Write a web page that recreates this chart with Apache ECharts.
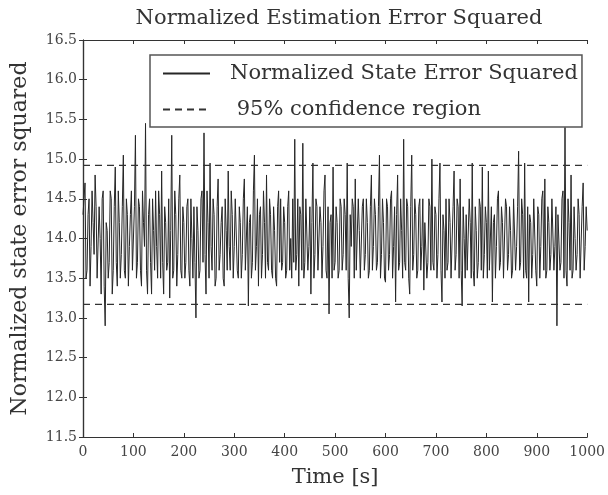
<!DOCTYPE html>
<html>
<head>
<meta charset="utf-8">
<script src="https://cdn.jsdelivr.net/npm/echarts@6/dist/echarts.min.js"></script>
<style>
html,body{margin:0;padding:0;background:#fff;}
#nees{width:608px;height:495px;}
</style>
</head>
<body>
<div id="nees"></div>
<script>
// sample step of the NEES trace, seconds
var STEP = 2;
// NEES values, 100 s per row
var nees0   = [14.3,14.5,14.7,13.5,13.6,14.3,14.5,13.4,13.9,14.6,14.2,13.8,14.8,14.4,13.5,13.5,14.4,14.0,13.3,14.5,14.6,13.4,12.9,14.2,14.1,13.5,13.7,14.6,14.5,13.3,13.6,14.4,14.9,13.7,13.4,14.6,14.2,13.5,13.8,14.4,15.05,13.6,13.5,14.5,14.3,13.4,13.9,14.3,14.6,13.6];
var nees100 = [13.6,14.4,15.3,13.5,13.7,14.5,14.4,13.6,13.4,14.6,14.2,13.9,15.45,13.6,13.3,14.3,14.5,13.7,13.3,14.5,14.1,13.6,14.6,13.9,13.5,14.6,14.3,13.5,14.85,13.7,13.3,14.4,14.2,13.6,13.7,14.5,13.25,14.1,15.3,13.5,13.6,14.6,14.3,13.4,13.8,14.5,14.8,13.6,13.5,14.4];
var nees200 = [14.2,13.5,13.7,14.4,14.5,13.6,13.4,14.5,14.0,13.5,14.4,13.7,13.0,14.4,14.1,13.5,13.6,14.5,14.6,13.7,15.33,13.8,13.3,14.6,14.2,13.5,14.95,13.9,13.6,14.5,14.3,13.4,13.5,14.4,14.75,13.6,13.8,14.2,14.4,13.5,13.4,14.5,14.1,13.6,14.85,13.9,13.6,14.6,14.3,13.5];
var nees300 = [13.9,14.5,14.5,13.6,13.5,14.4,14.2,13.5,13.8,14.5,14.75,13.6,13.6,14.4,13.15,14.2,14.3,13.5,13.7,14.6,15.05,13.6,13.9,14.5,13.4,14.3,14.4,13.5,13.8,14.6,14.2,13.5,14.8,13.7,13.6,14.5,14.3,13.6,13.5,14.4,14.1,13.5,13.4,14.4,14.6,13.7,14.5,13.6,13.7,14.4];
var nees400 = [14.2,13.5,13.6,14.4,14.6,13.6,14.0,13.5,14.5,13.7,15.25,13.6,13.8,14.5,13.4,14.4,14.3,13.6,15.2,13.5,13.7,14.5,14.5,13.6,13.9,14.4,13.3,14.2,14.95,13.5,13.8,14.5,14.4,13.6,13.6,14.4,14.2,13.5,13.9,14.6,14.8,13.6,13.5,14.4,13.05,14.2,14.3,13.5,14.9,13.6];
var nees500 = [13.7,14.4,14.2,13.5,13.6,14.5,14.4,13.6,13.8,14.5,14.3,13.6,14.95,13.5,13.0,14.3,13.9,14.5,14.4,13.5,14.75,13.6,13.6,14.5,14.1,13.5,13.5,14.4,14.5,13.6,13.8,14.5,14.2,13.5,13.6,14.4,14.8,13.6,13.9,14.5,14.3,13.6,13.7,14.4,15.05,13.5,13.8,14.5,14.2,13.5];
var nees600 = [13.45,14.5,14.4,13.6,13.8,14.5,14.6,13.5,13.9,14.4,13.2,14.3,14.8,13.6,13.7,14.5,14.1,13.5,15.25,13.7,13.6,14.5,14.4,13.5,13.3,14.4,15.05,13.6,13.8,14.5,14.3,13.5,13.6,14.4,14.5,13.6,13.9,14.5,13.35,14.2,14.2,13.5,13.7,14.5,14.4,13.6,15.0,13.7,13.6,14.4];
var nees700 = [14.3,13.5,13.8,14.5,14.95,13.6,13.2,14.3,14.1,13.5,14.5,13.6,13.7,14.5,14.2,13.5,13.5,14.4,14.85,13.6,13.8,14.5,14.4,13.5,14.75,13.6,13.15,14.4,14.0,13.5,14.3,13.6,13.6,14.5,14.2,13.5,14.95,13.6,13.4,14.4,14.1,13.5,13.7,14.5,14.4,13.6,14.9,13.5,13.8,14.4];
var nees800 = [14.2,13.5,14.85,13.6,13.6,14.4,13.2,14.2,14.3,13.5,13.9,14.5,14.6,13.6,13.7,14.4,14.2,13.5,13.5,14.5,14.4,13.6,13.8,14.4,14.1,13.5,13.6,14.5,14.5,13.6,13.9,14.4,15.1,13.6,13.7,14.5,14.3,13.5,14.95,13.6,13.5,14.4,13.2,14.3,14.2,13.5,13.8,14.5,14.5,13.6];
var nees900 = [13.4,14.4,14.3,13.5,13.9,14.5,14.6,13.6,14.75,13.5,13.6,14.4,14.2,13.6,13.8,14.5,14.5,13.6,13.9,14.4,12.9,14.3,14.3,13.6,13.7,14.5,14.6,13.5,15.4,13.6,13.4,14.5,14.2,13.6,14.8,13.5,13.6,14.4,14.0,13.6,13.8,14.5,14.3,13.5,13.5,14.4,14.7,13.6,13.9,14.4,14.1];
// 95% confidence bounds
var confUpper = 14.92;
var confLower = 13.17;
var xTicks = [0,100,200,300,400,500,600,700,800,900,1000];
var yTicks = [11.5,12.0,12.5,13.0,13.5,14.0,14.5,15.0,15.5,16.0,16.5];

var neesAll = [].concat(nees0,nees100,nees200,nees300,nees400,nees500,nees600,nees700,nees800,nees900);
var neesData = neesAll.map(function(v,i){ return [i*STEP, v]; });
var tEnd = xTicks[xTicks.length-1];

var serif = '"DejaVu Serif", "Liberation Serif", serif';
var NAME_NEES = 'Normalized State Error Squared';
var NAME_CONF = '95% confidence region';

var chart = echarts.init(document.getElementById('nees'));
var axisCommon = {
    axisLine: {show: true, lineStyle: {color: '#333', width: 1.2}},
    axisTick: {show: true, inside: true, length: 4, lineStyle: {color: '#333'}},
    splitLine: {show: false}
};
var option = {
    backgroundColor: '#fff',
    animation: false,
    title: {
        text: 'Normalized Estimation Error Squared',
        left: 334, top: 3, textAlign: 'center',
        textStyle: {fontFamily: serif, fontSize: 21, fontWeight: 'normal', color: '#333'}
    },
    legend: {
        orient: 'vertical',
        left: 150, top: 55,
        padding: [8, 4, 7, 12],
        itemWidth: 47, itemHeight: 14, itemGap: 15,
        borderColor: '#555', borderWidth: 1.5,
        backgroundColor: '#fff',
        itemStyle: {opacity: 0},
        textStyle: {fontFamily: serif, fontSize: 21, color: '#333', lineHeight: 20, padding: [0,0,0,15]},
        formatter: function(name){ return name === NAME_CONF ? ' ' + name : name; },
        data: [NAME_NEES, NAME_CONF]
    },
    grid: {left: 83, right: 17, top: 40, bottom: 58},
    xAxis: [
        echarts.util.merge({
            type: 'value', min: xTicks[0], max: tEnd, interval: 100,
            name: 'Time [s]', nameLocation: 'middle', nameGap: 30,
            nameTextStyle: {fontFamily: serif, fontSize: 21, color: '#333'},
            axisLabel: {fontFamily: serif, fontSize: 14, color: '#444', margin: 8,
                formatter: function(v){ return String(v); }}
        }, axisCommon),
        echarts.util.merge({
            type: 'value', position: 'top', min: xTicks[0], max: tEnd, interval: 100,
            axisLabel: {show: false}
        }, axisCommon)
    ],
    yAxis: [
        echarts.util.merge({
            type: 'value', min: yTicks[0], max: yTicks[yTicks.length-1], interval: 0.5,
            name: 'Normalized state error squared', nameLocation: 'middle', nameGap: 52,
            nameTextStyle: {fontFamily: serif, fontSize: 22, color: '#333'},
            axisLabel: {fontFamily: serif, fontSize: 14, color: '#444', margin: 6,
                formatter: function(v){ return v.toFixed(1); }}
        }, axisCommon),
        echarts.util.merge({
            type: 'value', position: 'right', min: yTicks[0], max: yTicks[yTicks.length-1], interval: 0.5,
            axisLabel: {show: false}
        }, axisCommon)
    ],
    series: [
        {
            name: NAME_NEES,
            type: 'line',
            data: neesData,
            symbol: 'none',
            lineStyle: {color: '#262626', width: 1},
            itemStyle: {color: '#777'},
            z: 2
        },
        {
            name: NAME_CONF,
            type: 'line',
            data: [[0, confUpper], [tEnd, confUpper]],
            symbol: 'none',
            lineStyle: {color: '#333', width: 1.2, type: [7, 5]},
            itemStyle: {color: '#333'},
            z: 3
        },
        {
            name: NAME_CONF,
            type: 'line',
            data: [[0, confLower], [tEnd, confLower]],
            symbol: 'none',
            lineStyle: {color: '#333', width: 1.2, type: [7, 5]},
            itemStyle: {color: '#333'},
            z: 3
        }
    ]
};
chart.setOption(option);
</script>
</body>
</html>
